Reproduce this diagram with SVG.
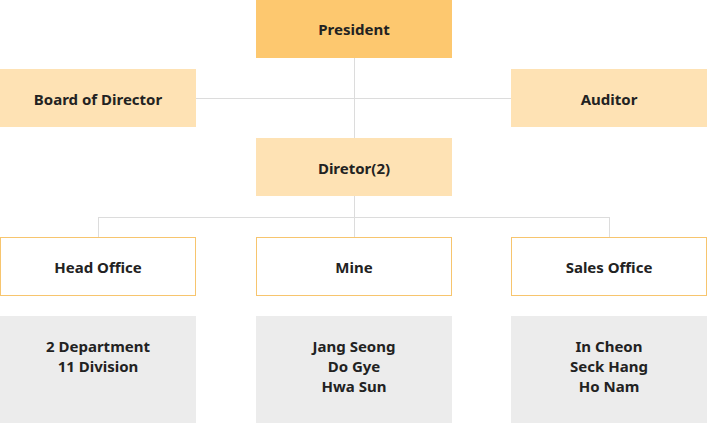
<svg xmlns="http://www.w3.org/2000/svg" width="707" height="425" viewBox="0 0 707 425">
<style>
text{font-family:"Noto Sans","Open Sans","Liberation Sans",sans-serif;font-weight:bold;font-size:15px;fill:#222;text-anchor:middle;dominant-baseline:central}
.ln{stroke:#dcdcdc;stroke-width:1;fill:none}
.top{fill:#fdc86f}
.lt{fill:#fee2b4}
.wb{fill:#fff;stroke:#f7c56e;stroke-width:1}
.gb{fill:#ececec}
</style>
<rect width="707" height="425" fill="#fff"/>
<g id="connectors">
<path class="ln" d="M354.5 58V138M195 98.5H511M354.5 196V217.5M98.5 217.5H609.5M98.5 217V237M354.5 217V237M609.5 217V237"/>
</g>
<g id="president"><rect class="top" x="256" y="0" width="196" height="58"/><text x="354" y="29">President</text></g>
<g id="board"><rect class="lt" x="0" y="69" width="196" height="58"/><text x="98" y="99">Board of Director</text></g>
<g id="auditor"><rect class="lt" x="511" y="69" width="196" height="58"/><text x="609" y="99">Auditor</text></g>
<g id="diretor"><rect class="lt" x="256" y="138" width="196" height="58"/><text x="354" y="168">Diretor(2)</text></g>
<g id="head-office"><rect class="wb" x="0.5" y="237.5" width="195" height="58"/><text x="98" y="267">Head Office</text></g>
<g id="mine"><rect class="wb" x="256.5" y="237.5" width="195" height="58"/><text x="354" y="267">Mine</text></g>
<g id="sales-office"><rect class="wb" x="511.5" y="237.5" width="195" height="58"/><text x="609" y="267">Sales Office</text></g>
<g id="head-detail"><rect class="gb" x="0" y="316" width="196" height="107"/><text x="98" y="346">2 Department</text><text x="98" y="366">11 Division</text></g>
<g id="mine-detail"><rect class="gb" x="256" y="316" width="196" height="107"/><text x="354" y="346">Jang Seong</text><text x="354" y="366">Do Gye</text><text x="354" y="386">Hwa Sun</text></g>
<g id="sales-detail"><rect class="gb" x="511" y="316" width="196" height="107"/><text x="609" y="346">In Cheon</text><text x="609" y="366">Seck Hang</text><text x="609" y="386">Ho Nam</text></g>
</svg>
